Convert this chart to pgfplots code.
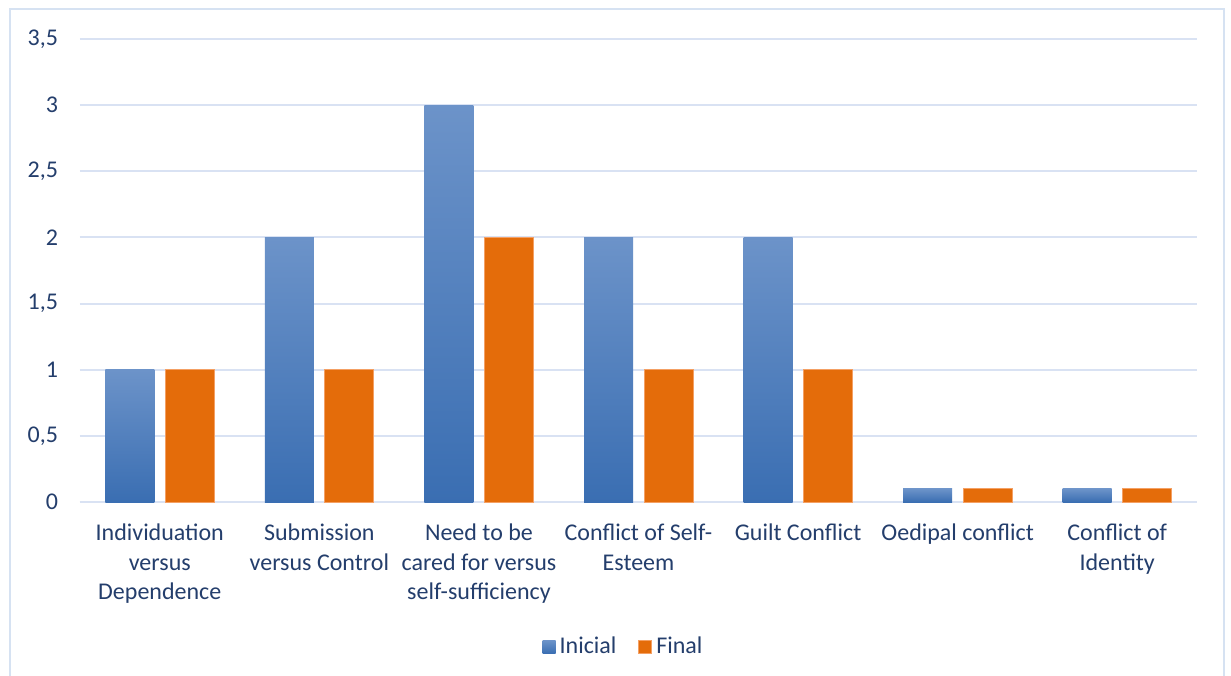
\documentclass[border=0pt]{standalone}
\usepackage{pgfplots}
\pgfplotsset{compat=1.18}
\usepackage{fontspec}
\setmainfont{Carlito}
\definecolor{txt}{RGB}{36,62,108}
\definecolor{gridc}{RGB}{217,226,243}
\definecolor{framec}{RGB}{214,226,242}
\definecolor{bluetop}{RGB}{108,147,201}
\definecolor{bluebot}{RGB}{58,110,178}
\definecolor{orng}{RGB}{228,108,10}
\definecolor{orngedge}{RGB}{244,160,100}
\begin{document}
\begin{tikzpicture}
\useasboundingbox (-40pt,-86.5pt) rectangle (575.5pt,251pt);
\fill[white] (-40pt,-86.5pt) rectangle (575.5pt,251pt);
\begin{axis}[
  at={(0pt,0pt)}, anchor=south west,
  scale only axis,
  width=558.5pt, height=231.5pt,
  ymin=0, ymax=3.5,
  xmin=-0.5, xmax=6.5,
  ytick={0,0.5,...,3.5},
  xtick={0,...,6},
  xticklabels={Individuation\\versus\\Dependence, Submission\\versus Control, Need to be\\cared for versus\\self-sufficiency, Conflict of Self-\\Esteem, Guilt Conflict, Oedipal conflict, Conflict of\\Identity},
  /pgf/number format/use comma,
  /pgf/number format/assume math mode=true,
  ymajorgrids,
  grid style={gridc, line width=1pt},
  axis line style={draw=none},
  axis x line*=bottom,
  axis y line*=left,
  major tick length=0pt,
  tick style={draw=none},
  ticklabel style={font=\fontsize{12}{14.75}\selectfont, text=txt},
  xticklabel style={align=center, anchor=north, yshift=-7.5pt},
  yticklabel style={xshift=-7.5pt},
  bar width=24.5pt,
  inicial/.style={ybar, bar shift=-15pt, draw=none, top color=bluetop, bottom color=bluebot},
  final/.style={ybar, bar shift=15pt, fill=orng, draw=orngedge, line width=0.4pt},
  legend style={at={(0.4875,-0.313)}, anchor=center, draw=none, fill=none,
    legend columns=-1, font=\fontsize{12}{14}\selectfont, text=txt,
    /tikz/every even column/.append style={column sep=9pt}},
  legend image code/.code={\path[#1] (0pt,-3.25pt) rectangle (6.5pt,3.25pt);},
]
\draw[gridc, line width=1pt] (rel axis cs:0,0) -- (rel axis cs:1,0);
% Inicial (one bar per plot so each bar carries its own gradient)
\addplot[inicial] coordinates {(0,1)};
\addlegendentry{Inicial}
\addplot[final] coordinates {(0,1) (1,1) (2,2) (3,1) (4,1) (5,0.1) (6,0.1)};
\addlegendentry{Final}
\addplot[inicial, forget plot] coordinates {(1,2)};
\addplot[inicial, forget plot] coordinates {(2,3)};
\addplot[inicial, forget plot] coordinates {(3,2)};
\addplot[inicial, forget plot] coordinates {(4,2)};
\addplot[inicial, forget plot] coordinates {(5,0.1)};
\addplot[inicial, forget plot] coordinates {(6,0.1)};
\end{axis}
\draw[framec, line width=1pt] (-35pt,-120pt) rectangle (572pt,246.5pt);
\end{tikzpicture}
\end{document}
